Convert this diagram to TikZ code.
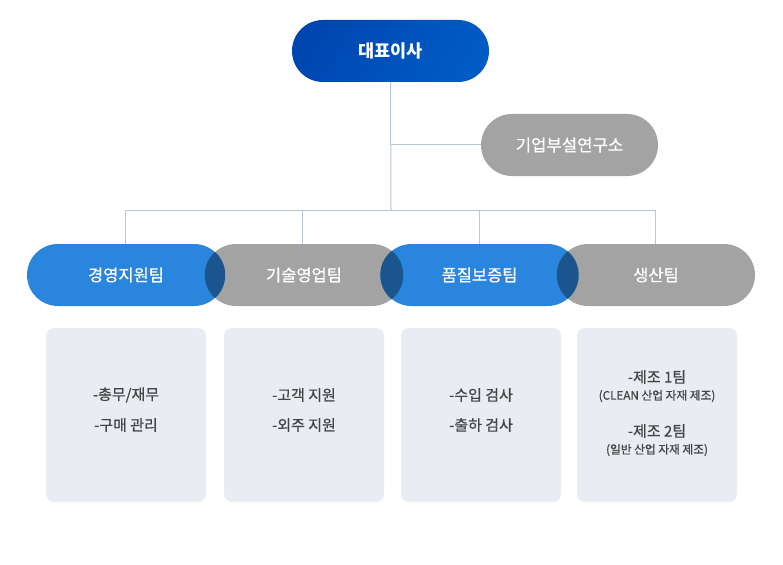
\documentclass[tikz,border=0pt]{standalone}
\usepackage{fontspec}
\setmainfont{Noto Sans CJK KR}
\newfontfamily\krmed[FakeBold=0.6]{Noto Sans CJK KR}
\begin{document}
\begin{tikzpicture}[x=1pt,y=-1pt,
  pill/.style={rounded corners=31pt, minimum width=198pt, minimum height=62pt, inner sep=0pt, text=white, font=\krmed\fontsize{16.5}{19}\selectfont},
  bluepill/.style={pill, fill=teamblue},
  graypill/.style={pill, fill=teamgray},
  infobox/.style={rounded corners=8pt, fill=boxbg, minimum width=160pt, minimum height=174pt, inner sep=0pt},
  boxtxt/.style={text=txt, inner sep=0pt, font=\krmed\fontsize{15}{17}\selectfont},
  subtxt/.style={text=txt, inner sep=0pt, font=\krmed\fontsize{11.7}{14}\selectfont},
  teamtxt/.style={text=white, inner sep=0pt, font=\krmed\fontsize{16.5}{19}\selectfont},
  conn/.style={draw=linec, line width=1pt}]
\definecolor{teamblue}{HTML}{2A85DC}
\definecolor{teamgray}{HTML}{A3A3A3}
\definecolor{overlap}{HTML}{1B558D}
\definecolor{boxbg}{HTML}{E9ECF3}
\definecolor{txt}{HTML}{444444}
\definecolor{linec}{HTML}{B8C5D6}
\definecolor{topa}{HTML}{0046B0}
\definecolor{topb}{HTML}{005BC6}
\useasboundingbox[fill=white] (0,0) rectangle (783,564);

\coordinate (hub) at (391,145);
\coordinate (bar) at (391,210);
\coordinate (b1) at (125,210);
\coordinate (b2) at (302,210);
\coordinate (b3) at (479,210);
\coordinate (b4) at (655,210);

\node[pill, minimum width=197pt, left color=topa, right color=topb, shading angle=60, font=\fontsize{17.5}{20}\selectfont\bfseries] (ceo) at (390.5,51) {대표이사};
\node[graypill, minimum width=177pt, font=\krmed\fontsize{16.7}{19}\selectfont] (lab) at (569.5,145) {기업부설연구소};

\node[bluepill] (t1) at (126,275) {};
\node[graypill] (t2) at (304,275) {};
\node[bluepill] (t3) at (479.5,275) {};
\node[graypill] (t4) at (656,275) {};

\draw[conn] (ceo.south) -- (bar);
\draw[conn] (hub) -- (lab.west);
\draw[conn] (b1) -- (b4);
\draw[conn] (b1) -- (b1 |- t1.north);
\draw[conn] (b2) -- (b2 |- t2.north);
\draw[conn] (b3) -- (b3 |- t3.north);
\draw[conn] (b4) -- (b4 |- t4.north);

\begin{scope}
  \clip[rounded corners=31pt] (t1.south west) rectangle (t1.north east);
  \fill[overlap, rounded corners=31pt] (t2.south west) rectangle (t2.north east);
\end{scope}
\begin{scope}
  \clip[rounded corners=31pt] (t2.south west) rectangle (t2.north east);
  \fill[overlap, rounded corners=31pt] (t3.south west) rectangle (t3.north east);
\end{scope}
\begin{scope}
  \clip[rounded corners=31pt] (t3.south west) rectangle (t3.north east);
  \fill[overlap, rounded corners=31pt] (t4.south west) rectangle (t4.north east);
\end{scope}

\node[teamtxt] (l1) at (t1) {경영지원팀};
\node[teamtxt] (l2) at (t2) {기술영업팀};
\node[teamtxt] (l3) at (t3) {품질보증팀};
\node[teamtxt] (l4) at (t4) {생산팀};

\node[infobox] (d1) at (126,415) {};
\node[infobox] (d2) at (304,415) {};
\node[infobox] (d3) at (481,415) {};
\node[infobox] (d4) at (657,415) {};

\node[boxtxt] (d1a) at (126,395) {-총무/재무};
\node[boxtxt] (d1b) at (126,425) {-구매 관리};
\node[boxtxt] (d2a) at (304,395) {-고객 지원};
\node[boxtxt] (d2b) at (304,425) {-외주 지원};
\node[boxtxt] (d3a) at (481,395) {-수입 검사};
\node[boxtxt] (d3b) at (481,425) {-출하 검사};
\node[boxtxt] (d4a) at (657,377) {-제조 1팀};
\node[subtxt] (d4b) at (657,396) {(CLEAN 산업 자재 제조)};
\node[boxtxt] (d4c) at (657,431) {-제조 2팀};
\node[subtxt] (d4d) at (657,450) {(일반 산업 자재 제조)};
\end{tikzpicture}
\end{document}
